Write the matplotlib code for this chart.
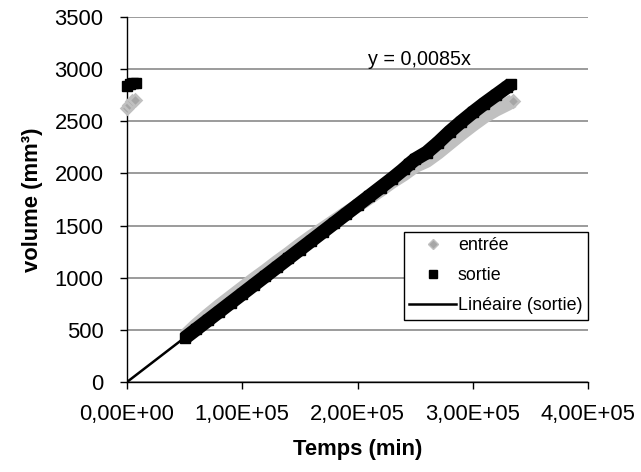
import matplotlib
matplotlib.use("Agg")
import matplotlib.pyplot as plt
from matplotlib.ticker import FuncFormatter

plt.rcParams['font.family'] = ['Liberation Sans', 'DejaVu Sans']

# ---- data ----
entree_x = [0, 2000, 4500, 7000,
            50000, 60000, 70000, 80000, 90000, 100000, 110000, 120000, 130000, 140000,
            150000, 160000, 170000, 180000, 190000, 200000, 210000, 220000, 230000, 240000,
            250000, 260000, 270000, 280000, 290000, 300000, 310000, 320000, 330000, 335000]
entree_y = [2630, 2660, 2690, 2705,
            440, 545, 640, 730, 815, 900, 985, 1065, 1150, 1230,
            1315, 1395, 1470, 1545, 1620, 1690, 1765, 1840, 1920, 1990,
            2070, 2120, 2200, 2290, 2380, 2465, 2545, 2610, 2665, 2695]

sortie_x = [0, 2500, 5000, 7500,
            50000, 60000, 70000, 80000, 90000, 100000, 110000, 120000, 130000, 140000,
            150000, 160000, 170000, 180000, 190000, 200000, 210000, 220000, 230000, 240000,
            245000, 250000, 260000, 270000, 280000, 290000, 300000, 310000, 320000, 330000, 333000]
sortie_y = [2840, 2855, 2865, 2870,
            420, 505, 590, 675, 760, 845, 930, 1015, 1100, 1185,
            1270, 1355, 1440, 1525, 1610, 1695, 1780, 1865, 1950, 2040,
            2090, 2135, 2200, 2295, 2400, 2495, 2585, 2670, 2750, 2830, 2855]

slope = 0.0085
trend_x = [0, 333000]

x_ticks = [0, 100000, 200000, 300000, 400000]
y_ticks = [0, 500, 1000, 1500, 2000, 2500, 3000, 3500]

# ---- figure ----
fig = plt.figure(figsize=(6.41, 4.72), dpi=100)
ax = fig.add_axes([127/641, 1-382/472, 461/641, 365/472])

grey = '#c0c0c0'
n_out = 4
# entrée: outliers then band
ax.plot(entree_x[:n_out], entree_y[:n_out], ls='none', marker='D', ms=6,
        mfc='#a6a6a6', mec=grey, mew=1.8, clip_on=False, zorder=3)
ax.plot(entree_x[n_out:], entree_y[n_out:], color=grey, lw=10, solid_capstyle='butt',
        solid_joinstyle='round', zorder=3)
ax.plot(entree_x[-1:], entree_y[-1:], ls='none', marker='D', ms=6,
        mfc='#a6a6a6', mec=grey, mew=1.8, zorder=3)

# trend line
ax.plot(trend_x, [slope * v for v in trend_x], color='black', lw=1.8, zorder=2)

# sortie
ax.plot(sortie_x[:n_out], sortie_y[:n_out], ls='none', marker='s', ms=7.2,
        color='black', clip_on=False, zorder=4)
ax.plot(sortie_x[n_out:], sortie_y[n_out:], color='black', lw=10,
        marker='s', ms=7.2, solid_capstyle='butt', solid_joinstyle='round', zorder=4)

# legend proxies
h1, = ax.plot([], [], ls='none', marker='D', ms=5, mfc='#a6a6a6', mec=grey, mew=1)
h2, = ax.plot([], [], ls='none', marker='s', ms=6, color='black')
h3, = ax.plot([], [], color='black', lw=1.8)
leg = ax.legend([h1, h2, h3], ['entrée', 'sortie', 'Linéaire (sortie)'],
                loc='upper left', bbox_to_anchor=(0.601, 0.411),
                fontsize=12.9, frameon=True, fancybox=False, framealpha=1,
                edgecolor='black', borderpad=0.3, labelspacing=0.72,
                handlelength=2.6, handletextpad=0.1, borderaxespad=0)
leg.get_frame().set_linewidth(1.0)
leg.set_zorder(5)

ax.text(209000, 3097, 'y = 0,0085x', fontsize=14.2, va='center', ha='left')

ax.set_xlim(0, 400000)
ax.set_ylim(0, 3500)
ax.set_xticks(x_ticks)
ax.set_yticks(y_ticks)
ax.xaxis.set_major_formatter(FuncFormatter(
    lambda v, p: ('%.2E' % v).replace('.', ',')))

for sp in ['top', 'right']:
    ax.spines[sp].set_visible(False)
for sp in ['left', 'bottom']:
    ax.spines[sp].set_color('black')
    ax.spines[sp].set_linewidth(1.0)

ax.yaxis.grid(True, color='#808080', lw=1.1)
ax.set_axisbelow(True)
ax.tick_params(axis='both', direction='out', length=5, width=1, labelsize=15.8,
               colors='black')
ax.tick_params(axis='x', pad=11)
ax.tick_params(axis='y', pad=12)

ax.set_xlabel('Temps (min)', fontsize=15.8, fontweight='bold', labelpad=10)
ax.set_ylabel('volume (mm³)', fontsize=15.8, fontweight='bold', labelpad=8)

fig.savefig('out.png', dpi=100)
